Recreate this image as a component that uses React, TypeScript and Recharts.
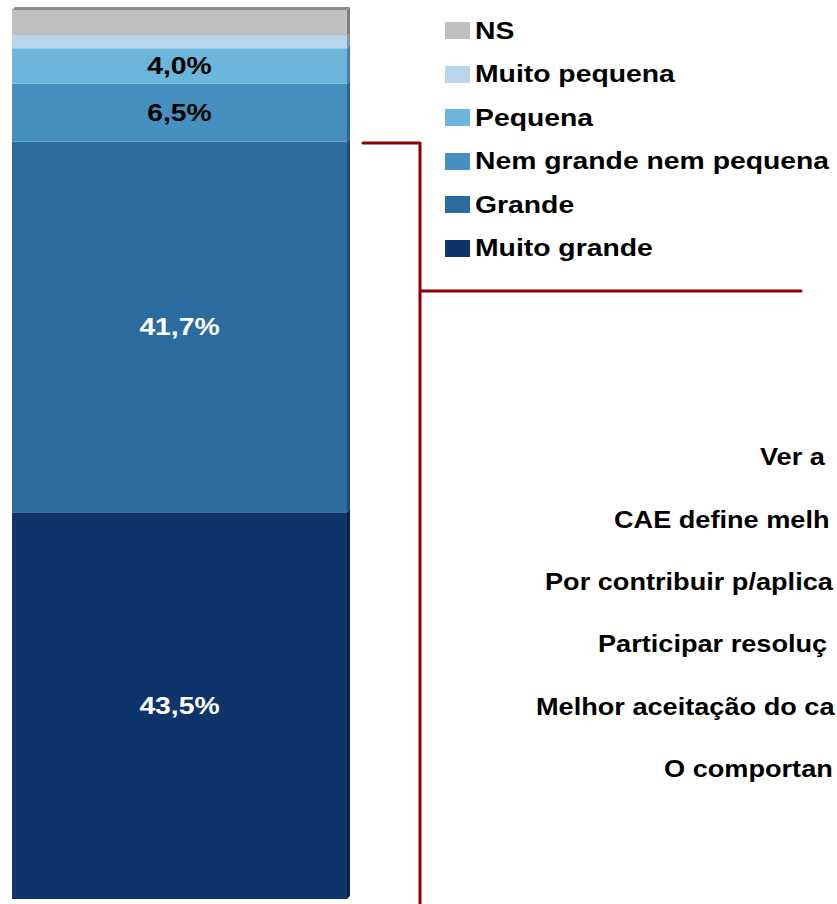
import React from 'react';
import { BarChart, Bar, XAxis, YAxis, LabelList, Customized } from 'recharts';

const categories = ['Total'];
const seriesNames = ['Muito grande', 'Grande', 'Nem grande nem pequena', 'Pequena', 'Muito pequena', 'NS'];
const seriesValues = [43.5, 41.7, 6.5, 4.0, 1.4, 2.9];
const seriesColors = ['#0E3569', '#2A6BA0', '#4590BF', '#6BB6DA', '#B9D5EC', '#BFBFBF'];
const sideColors = ['#0A2440', '#1C4A70', '#2F6587', '#4A809A', '#8298A8', '#7F7F7F'];
const labelColors = ['#FFFFFF', '#FFFFFF', '#000000', '#000000', null, null];
const reasons = [
  'Ver a',
  'CAE define melh',
  'Por contribuir p/aplica',
  'Participar resoluç',
  'Melhor aceitação do ca',
  'O comportan',
];
const reasonX = [760, 614, 545, 598, 536, 664];

const chartData = categories.map((c) => {
  const row: Record<string, any> = { name: c };
  seriesNames.forEach((s, i) => (row[s] = seriesValues[i]));
  return row;
});

const font = '"Liberation Sans", Arial, sans-serif';
const stretch = 1.18;

const makeShape = (idx: number) => (props: any) => {
  const { x, y, width, height } = props;
  const d = 3;
  return (
    <g>
      <rect x={x} y={y} width={width} height={height} fill={seriesColors[idx]} />
      <polygon
        points={`${x + width},${y} ${x + width + d},${y - d} ${x + width + d},${y + height - d} ${x + width},${y + height}`}
        fill={sideColors[idx]}
      />
      {idx === seriesNames.length - 1 && (
        <polygon
          points={`${x},${y} ${x + d},${y - d} ${x + width + d},${y - d} ${x + width},${y}`}
          fill="#8C8C8C"
        />
      )}
    </g>
  );
};

const makeLabel = (color: string) => (props: any) => {
  const { x, y, width, height, value } = props;
  const cx = x + width / 2;
  const cy = y + height / 2;
  return (
    <text
      transform={`translate(${cx},${cy}) scale(${stretch},1)`}
      textAnchor="middle"
      dominantBaseline="central"
      fontFamily={font}
      fontWeight="bold"
      fontSize={24}
      fill={color}
    >
      {`${Number(value).toFixed(1).replace('.', ',')}%`}
    </text>
  );
};

const LegendBox = () => (
  <div style={{ position: 'absolute', left: 445, top: 9, fontFamily: font, fontWeight: 'bold', fontSize: 24, color: '#000' }}>
    {seriesNames
      .map((s, i) => ({ s, i }))
      .reverse()
      .map(({ s, i }) => (
        <div key={s} style={{ display: 'flex', alignItems: 'center', height: 43.5, whiteSpace: 'nowrap' }}>
          <span style={{ width: 25, height: 17, background: seriesColors[i], marginRight: 5, display: 'inline-block', flex: 'none' }} />
          <span style={{ display: 'inline-block', transform: `scaleX(${stretch})`, transformOrigin: 'left center' }}>{s}</span>
        </div>
      ))}
  </div>
);

const Decor = () => (
  <g>
    <path d="M363,143 L420,143 L420,904 M420,291 L801,291" fill="none" stroke="#8B0000" strokeWidth={3} strokeLinecap="round" strokeLinejoin="round" />
    {reasons.map((r, i) => (
      <text
        key={r}
        transform={`translate(${reasonX[i]},${457 + i * 62.4}) scale(${stretch},1)`}
        dominantBaseline="central"
        fontFamily={font}
        fontWeight="bold"
        fontSize={23}
        fill="#000"
      >
        {r}
      </text>
    ))}
  </g>
);

export default function App() {
  return (
    <div style={{ position: 'absolute', left: 0, top: 0, width: 837, height: 904, background: '#fff', overflow: 'hidden' }}>
      <BarChart
        width={837}
        height={904}
        data={chartData}
        margin={{ top: 10, right: 490, bottom: 5, left: 12 }}
        barCategoryGap={0}
      >
        <XAxis dataKey="name" hide />
        <YAxis hide domain={[0, 100]} />
        {seriesNames.map((s, i) => (
          <Bar key={s} dataKey={s} stackId="a" fill={seriesColors[i]} shape={makeShape(i)} isAnimationActive={false}>
            {labelColors[i] && <LabelList dataKey={s} content={makeLabel(labelColors[i] as string)} />}
          </Bar>
        ))}
        <Customized component={Decor} />
      </BarChart>
      <LegendBox />
    </div>
  );
}
